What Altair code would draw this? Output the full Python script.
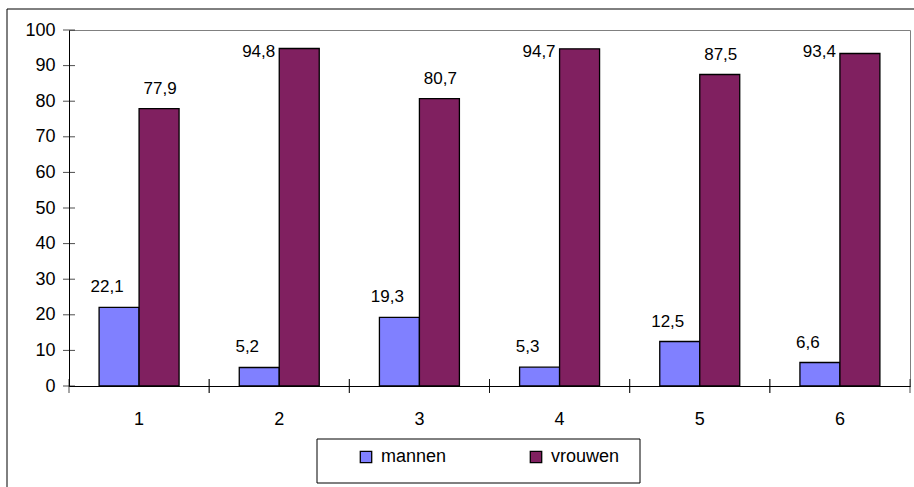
import altair as alt
import pandas as pd

# Chart data
categories = ["1", "2", "3", "4", "5", "6"]
mannen = [22.1, 5.2, 19.3, 5.3, 12.5, 6.6]
vrouwen = [77.9, 94.8, 80.7, 94.7, 87.5, 93.4]
series_names = ["mannen", "vrouwen"]
series_colors = ["#8080FF", "#802060"]
y_tick_values = [0, 10, 20, 30, 40, 50, 60, 70, 80, 90, 100]

rows = []
for i, cat in enumerate(categories):
    rows.append({"cat": cat, "serie": "mannen", "waarde": mannen[i]})
    rows.append({"cat": cat, "serie": "vrouwen", "waarde": vrouwen[i]})
df = pd.DataFrame(rows)
df["label"] = df["waarde"].map(lambda v: f"{v:.1f}".replace(".", ","))

cat_df = pd.DataFrame({"cat": categories})
tick_df = pd.DataFrame({"waarde": y_tick_values})
one_row = pd.DataFrame({"a": [0]})

W, H = 841, 356
FONT = "Liberation Sans"

# one axis definition per direction, shared by every layer
x_axis = alt.Axis(
    title=None, labelAngle=0, ticks=False, grid=False,
    domainColor="black", domainWidth=1,
    labelFont=FONT, labelFontSize=18, labelColor="black",
    labelPadding=24, labelBaseline="top",
)
y_axis = alt.Axis(
    title=None, values=y_tick_values, ticks=False, grid=False,
    domainColor="black", domainWidth=1,
    labelFont=FONT, labelFontSize=18, labelColor="black",
    labelPadding=14, labelOverlap=False, labelFlush=False,
)
x_scale = alt.Scale(paddingInner=0, paddingOuter=0)
y_scale = alt.Scale(domain=[0, 100], nice=False, zero=True)

x_enc = alt.X("cat:N", sort=categories, scale=x_scale, axis=x_axis)
x_off = alt.XOffset(
    "serie:N", sort=series_names,
    scale=alt.Scale(paddingInner=0, paddingOuter=0.7525),
)
y_enc = alt.Y("waarde:Q", scale=y_scale, axis=y_axis)

bars = alt.Chart(df).mark_bar(stroke="black", strokeWidth=1.3).encode(
    x=x_enc,
    xOffset=x_off,
    y=y_enc,
    color=alt.Color(
        "serie:N",
        scale=alt.Scale(domain=series_names, range=series_colors),
        legend=alt.Legend(
            title=None, orient="none", legendX=288, legendY=418,
            direction="horizontal", symbolType="square", symbolSize=130,
            symbolStrokeColor="black", symbolStrokeWidth=1.3,
            labelFont=FONT, labelFontSize=18, labelColor="black",
            labelOffset=6, columnPadding=80, padding=0,
        ),
    ),
)

label_style = dict(font=FONT, fontSize=17, color="black", baseline="alphabetic")

labels_m = alt.Chart(df).transform_filter("datum.serie == 'mannen'").mark_text(
    dx=-12, dy=-15, align="center", **label_style
).encode(x=x_enc, xOffset=x_off, y=y_enc, text="label:N")

# labels that fit above their bar
labels_v = alt.Chart(df).transform_filter(
    "datum.serie == 'vrouwen' && datum.waarde < 90"
).mark_text(dx=1, dy=-15, align="center", **label_style).encode(
    x=x_enc, xOffset=x_off, y=y_enc, text="label:N"
)

# labels that would run past the top: kept inside, set beside the bar
labels_v_top = alt.Chart(df).transform_filter(
    "datum.serie == 'vrouwen' && datum.waarde >= 90"
).mark_text(dx=-24, dy=27, align="right", **label_style).encode(
    x=x_enc, xOffset=x_off, y=alt.YDatum(100, scale=y_scale, axis=y_axis), text="label:N"
)

# crossing tick marks on both axes
y_ticks = alt.Chart(tick_df).mark_tick(
    orient="horizontal", size=12, thickness=1, color="black"
).encode(y=y_enc, x=alt.value(0))

x_ticks_start = alt.Chart(cat_df).mark_tick(
    orient="vertical", size=14, thickness=1, color="black"
).encode(
    x=alt.X("cat:N", sort=categories, scale=x_scale, axis=x_axis, bandPosition=0),
    y=alt.YDatum(0, scale=y_scale, axis=y_axis),
)

x_ticks_end = alt.Chart(cat_df).mark_tick(
    orient="vertical", size=14, thickness=1, color="black"
).encode(
    x=alt.X("cat:N", sort=categories, scale=x_scale, axis=x_axis, bandPosition=1),
    y=alt.YDatum(0, scale=y_scale, axis=y_axis),
)

legend_box = alt.Chart(one_row).mark_rect(
    fillOpacity=0, stroke="black", strokeWidth=1
).encode(x=alt.value(248), x2=alt.value(571), y=alt.value(409), y2=alt.value(453))

outer_box = alt.Chart(one_row).mark_rect(
    fillOpacity=0, stroke="black", strokeWidth=1
).encode(x=alt.value(-62), x2=alt.value(960), y=alt.value(-21), y2=alt.value(520))

chart = alt.layer(
    bars, outer_box, legend_box, labels_m, labels_v, labels_v_top,
    y_ticks, x_ticks_start, x_ticks_end,
).properties(
    width=W, height=H,
    autosize=alt.AutoSizeParams(type="none"),
    padding={"left": 69, "top": 30, "right": 4, "bottom": 101},
    background="white",
).configure_view(stroke="#808080", strokeWidth=1)

chart.save("out.html", embed_options={"renderer": "svg", "actions": False})
